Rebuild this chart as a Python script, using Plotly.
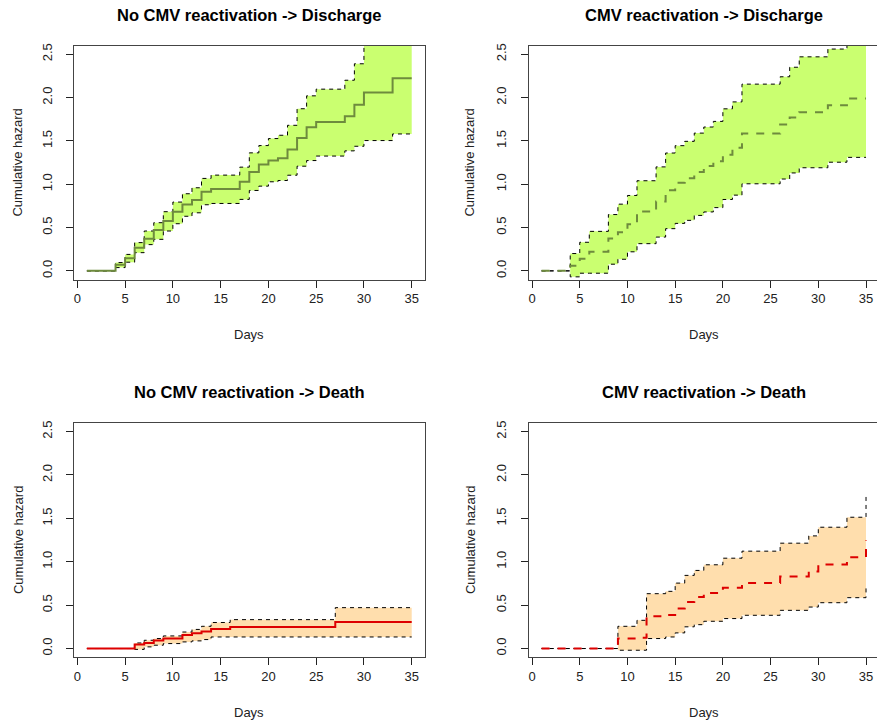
import plotly.graph_objects as go

# ---------------- data ----------------
# Panel 1: No CMV reactivation -> Discharge
days1 = [1, 4, 5, 6, 7, 8, 9, 10, 11, 12, 13, 14, 17, 18, 19, 20, 21, 22, 23, 24, 25, 28, 29, 30, 33, 35]
est1 = [0, 0.07, 0.145, 0.268, 0.372, 0.472, 0.575, 0.683, 0.767, 0.817, 0.913, 0.945, 1.028, 1.14, 1.227,
        1.273, 1.30, 1.40, 1.534, 1.657, 1.718, 1.784, 1.917, 2.059, 2.224, 2.224]
up1 = [0, 0.096, 0.19, 0.326, 0.46, 0.556, 0.683, 0.794, 0.89, 0.959, 1.067, 1.105, 1.197, 1.362, 1.446,
       1.527, 1.565, 1.68, 1.871, 2.02, 2.097, 2.20, 2.39, 2.75, 2.95, 2.95]
lo1 = [0, 0.038, 0.10, 0.21, 0.303, 0.364, 0.46, 0.544, 0.63, 0.67, 0.763, 0.778, 0.825, 0.928, 0.978,
       1.028, 1.043, 1.104, 1.208, 1.273, 1.325, 1.385, 1.438, 1.504, 1.58, 1.58]

# Panel 2: CMV reactivation -> Discharge
days2 = [1, 4, 5, 6, 8, 9, 10, 11, 13, 14, 15, 16, 17, 18, 19, 20, 21, 22, 26, 27, 28, 31, 33, 35]
est2 = [0, 0.06, 0.14, 0.22, 0.375, 0.445, 0.537, 0.686, 0.80, 0.93, 1.016, 1.07, 1.14, 1.21, 1.265, 1.34,
        1.42, 1.585, 1.69, 1.77, 1.83, 1.91, 1.99, 1.99]
up2 = [0, 0.20, 0.33, 0.456, 0.65, 0.77, 0.87, 1.04, 1.20, 1.36, 1.445, 1.495, 1.59, 1.66, 1.725, 1.87,
       1.95, 2.155, 2.24, 2.35, 2.47, 2.56, 2.68, 2.68]
lo2 = [0, -0.069, -0.027, -0.027, 0.077, 0.134, 0.22, 0.314, 0.39, 0.487, 0.548, 0.583, 0.64, 0.68, 0.73,
       0.824, 0.874, 1.005, 1.06, 1.13, 1.19, 1.254, 1.31, 1.31]

# Panel 3: No CMV reactivation -> Death
days3 = [1, 6, 7, 8, 9, 11, 12, 13, 14, 16, 27, 35]
est3 = [0, 0.046, 0.064, 0.092, 0.115, 0.155, 0.175, 0.195, 0.225, 0.247, 0.306, 0.306]
up3 = [0, 0.064, 0.095, 0.115, 0.145, 0.19, 0.22, 0.256, 0.30, 0.333, 0.471, 0.471]
lo3 = [0, -0.01, 0.019, 0.038, 0.057, 0.076, 0.088, 0.103, 0.133, 0.133, 0.133, 0.133]

# Panel 4: CMV reactivation -> Death
days4 = [1, 9, 11, 12, 14, 15, 16, 17, 18, 20, 22, 26, 29, 30, 33, 35]
est4 = [0, 0.115, 0.125, 0.371, 0.385, 0.46, 0.536, 0.593, 0.64, 0.70, 0.755, 0.83, 0.888, 0.969, 1.053, 1.245]
up4 = [0, 0.256, 0.325, 0.632, 0.659, 0.754, 0.843, 0.90, 0.965, 1.041, 1.122, 1.214, 1.298, 1.398, 1.513, 1.78]
lo4 = [0, -0.02, -0.02, 0.115, 0.133, 0.18, 0.25, 0.275, 0.314, 0.345, 0.383, 0.44, 0.478, 0.528, 0.586, 0.708]

titles = ["No CMV reactivation -> Discharge", "CMV reactivation -> Discharge",
          "No CMV reactivation -> Death", "CMV reactivation -> Death"]
x_ticks = [0, 5, 10, 15, 20, 25, 30, 35]
y_ticks = [0.0, 0.5, 1.0, 1.5, 2.0, 2.5]
y_ticktext = ["0.0", "0.5", "1.0", "1.5", "2.0", "2.5"]
x_label = "Days"
y_label = "Cumulative hazard"

# ---------------- styling ----------------
W, H = 877, 726
FONT = "Liberation Sans, Arial, Helvetica, sans-serif"
green_fill = "#CAFF70"
green_line = "#6E8B3D"
orange_fill = "#FFDEAD"
red_line = "#DD0000"

panels = [
    dict(days=days1, est=est1, up=up1, lo=lo1, fill=green_fill, line=green_line, dash="solid", ax=""),
    dict(days=days2, est=est2, up=up2, lo=lo2, fill=green_fill, line=green_line, dash="8px,8px", ax="2"),
    dict(days=days3, est=est3, up=up3, lo=lo3, fill=orange_fill, line=red_line, dash="solid", ax="3"),
    dict(days=days4, est=est4, up=up4, lo=lo4, fill=orange_fill, line=red_line, dash="8px,8px", ax="4"),
]

fig = go.Figure()
for p in panels:
    xa = "x" + p["ax"]
    ya = "y" + p["ax"]
    fig.add_trace(go.Scatter(x=p["days"], y=p["lo"], mode="lines", line=dict(width=0, shape="hv"),
                             xaxis=xa, yaxis=ya, showlegend=False, hoverinfo="skip"))
    fig.add_trace(go.Scatter(x=p["days"], y=p["up"], mode="lines", line=dict(width=0, shape="hv"),
                             fill="tonexty", fillcolor=p["fill"],
                             xaxis=xa, yaxis=ya, showlegend=False, hoverinfo="skip"))
    for ci in (p["up"], p["lo"]):
        fig.add_trace(go.Scatter(x=p["days"], y=ci, mode="lines",
                                 line=dict(color="black", width=1, shape="hv", dash="4px,4px"),
                                 xaxis=xa, yaxis=ya, showlegend=False))
    fig.add_trace(go.Scatter(x=p["days"], y=p["est"], mode="lines",
                             line=dict(color=p["line"], width=2, shape="hv", dash=p["dash"]),
                             xaxis=xa, yaxis=ya, showlegend=False))

# geometry (pixels)
left_dom = [73.9 / W, 424.7 / W]
right_dom = [528.6 / W, 1.0]
top_dom = [1 - 278.3 / H, 1 - 43.7 / H]
bot_dom = [1 - 657.0 / H, 1 - 422.1 / H]

def xaxis(dom, rng, anchor):
    return dict(domain=dom, range=rng, anchor=anchor, tickmode="array", tickvals=x_ticks,
                ticktext=[str(v) for v in x_ticks], ticks="outside", ticklen=7, tickcolor="#222",
                showline=True, mirror=True, linecolor="#444", linewidth=1, showgrid=False,
                zeroline=False, tickfont=dict(family=FONT, size=13, color="#222"), fixedrange=True)

def yaxis(dom, anchor, mirror):
    return dict(domain=dom, range=[-0.1, 2.6], anchor=anchor, tickmode="array", tickvals=y_ticks,
                ticktext=y_ticktext, ticks="outside", ticklen=7, tickcolor="#222", tickangle=-90,
                ticklabelstandoff=9,
                showline=True, mirror=mirror, linecolor="#444", linewidth=1, showgrid=False,
                zeroline=False, tickfont=dict(family=FONT, size=13, color="#222"), fixedrange=True)

fig.update_layout(
    width=W, height=H, margin=dict(l=0, r=0, t=0, b=0),
    paper_bgcolor="white", plot_bgcolor="white", hovermode=False,
    xaxis=xaxis(left_dom, [-0.36, 36.36], "y"),
    yaxis=yaxis(top_dom, "x", True),
    xaxis2=xaxis(right_dom, [-0.36, 36.15], "y2"),
    yaxis2=yaxis(top_dom, "x2", False),
    xaxis3=xaxis(left_dom, [-0.36, 36.36], "y3"),
    yaxis3=yaxis(bot_dom, "x3", True),
    xaxis4=xaxis(right_dom, [-0.36, 36.15], "y4"),
    yaxis4=yaxis(bot_dom, "x4", False),
)

annots = []
centers_x = [249.3, 704.0]
title_y = [13, 391]
days_y = [333, 712]
ylab_x = [18, 470]
ylab_y = [161, 539.5]
for i, t in enumerate(titles):
    cx = centers_x[i % 2]
    row = i // 2
    annots.append(dict(text="<b>" + t + "</b>", x=cx / W, y=1 - title_y[row] / H, xref="paper", yref="paper",
                       showarrow=False, xanchor="center", yanchor="middle",
                       font=dict(family=FONT, size=16.5, color="black")))
    annots.append(dict(text=x_label, x=cx / W, y=1 - days_y[row] / H, xref="paper", yref="paper",
                       showarrow=False, xanchor="center", yanchor="middle",
                       font=dict(family=FONT, size=13, color="#222")))
    annots.append(dict(text=y_label, x=ylab_x[i % 2] / W, y=1 - ylab_y[row] / H, xref="paper", yref="paper",
                       showarrow=False, xanchor="center", yanchor="middle", textangle=-90,
                       font=dict(family=FONT, size=13, color="#222")))
fig.update_layout(annotations=annots)

fig.write_html("out.html", config={"displayModeBar": False, "staticPlot": True},
               post_script="document.body.style.margin='0px';document.body.style.overflow='hidden';")
